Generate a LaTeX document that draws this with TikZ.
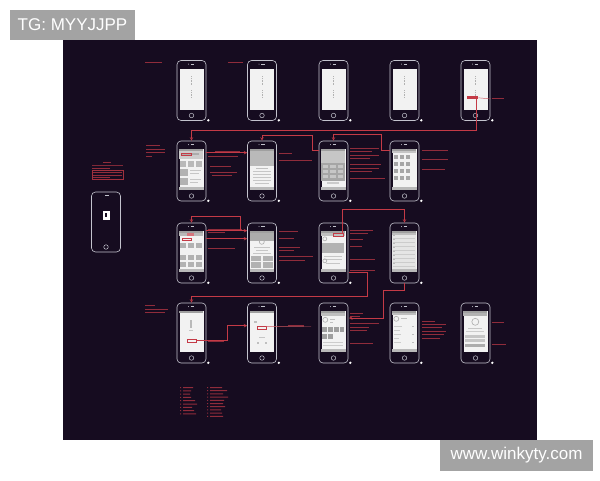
\documentclass[tikz,border=0pt]{standalone}
\usepackage{fontspec}
\setmainfont{Liberation Sans}
\usetikzlibrary{positioning}

\definecolor{bgnavy}{RGB}{22,12,32}
\definecolor{wire}{RGB}{196,58,70}
\definecolor{shell}{RGB}{195,195,205}
\definecolor{scr}{RGB}{242,242,242}
\definecolor{wmgray}{RGB}{163,163,163}

\begin{document}
\begin{tikzpicture}[x=1pt, y=-1pt]
    \tikzstyle{every node}=[inner sep=0pt]
    \tikzstyle{phone}=[draw=shell, line width=0.6pt, rounded corners=4pt, minimum width=29pt, minimum height=60pt]
    \tikzstyle{screen}=[fill=scr, minimum width=24pt, minimum height=41pt, yshift=1.5pt]
    \tikzstyle{homebtn}=[circle, draw=shell, line width=0.5pt, minimum size=4.5pt, yshift=-25pt]
    \tikzstyle{link}=[draw=wire, line width=0.55pt, ->, >=stealth]
    \tikzstyle{leader}=[draw=wire!85, line width=0.45pt]
    \tikzstyle{note}=[fill=wire!70!bgnavy]
    \tikzstyle{badge}=[fill=wmgray, text=white, font=\fontsize{17}{17}\selectfont]

    \useasboundingbox (0,0) rectangle (600,480);
    \fill[bgnavy] (63,40) rectangle (537,440);

    % phones
    \foreach \c/\x in {1/191.5,2/262,3/333.5,4/404.5,5/475.5} {
        \node[phone] (p1\c) at (\x,90.5) {};
        \node[phone] (p4\c) at (\x,333) {};
    }
    \foreach \c/\x in {1/191.5,2/262,3/333.5,4/404.5} {
        \node[phone] (p2\c) at (\x,171) {};
        \node[phone] (p3\c) at (\x,253) {};
    }
    \node[phone] (p0) at (106,222) {};

    \foreach \p in {11,12,13,14,15,21,22,23,24,31,32,33,34,41,42,43,44,45} {
        \node[screen] (s\p) at (p\p) {};
        \node[homebtn] at (p\p) {};
        \fill[shell] ([xshift=-3pt,yshift=-4pt]p\p.north) circle (0.5);
        \draw[shell, line width=0.6pt] ([xshift=-1pt,yshift=-4pt]p\p.north) -- ([xshift=2.5pt,yshift=-4pt]p\p.north);
        \fill[white] ([xshift=2pt,yshift=0.5pt]p\p.south east) circle (1.3);
    }
    \node[homebtn] at (p0) {};
    \draw[shell, line width=0.6pt] ([xshift=-1pt,yshift=-4pt]p0.north) -- ([xshift=2.5pt,yshift=-4pt]p0.north);
    \node[fill=white, minimum width=7pt, minimum height=9pt, yshift=7pt] (logo) at (p0) {};
    \fill[bgnavy] ([shift={(-1,-2)}]logo.center) rectangle ([shift={(1,2)}]logo.center);

    % screen content
    \foreach \p in {11,...,15}
        \draw[gray!60, line width=0.5pt, dash pattern=on 0.8pt off 0.8pt]
            ([shift={(12,8)}]s\p.north west) -- ++(0,9) ([shift={(12,22)}]s\p.north west) -- ++(0,7);
    \foreach \p in {21,22,23,24,31,32,33,34,41,42,43,44,45}
        \fill[gray!75] (s\p.north west) rectangle ([shift={(24,2)}]s\p.north west);
    \foreach \p in {21,22,23,24,31,32,33,34,43,44}
        \fill[gray!55] ([shift={(0,38)}]s\p.north west) rectangle (s\p.south east);
    \foreach \s/\a/\b/\c/\d/\k in {
        21/0/2/24/10/40, 21/2/4/20/6/65, 21/1/12/7/18/55, 21/9/12/15/18/55, 21/17/12/23/18/55,
        21/1/20/9/27/60, 21/11/21/22/22/45, 21/11/24/20/25/45, 21/1/29/9/36/60, 21/11/30/22/31/45, 21/11/33/19/34/45,
        22/0/2/24/17/55, 22/6/19/18/20/50, 22/3/22/21/23/45, 22/3/25/21/26/45, 22/3/28/21/29/45, 22/3/31/21/32/45, 22/5/34/19/35/45,
        23/0/2/24/14/45, 23/0/14/24/32/70, 23/2/16/7/19/45, 23/9/16/15/19/45, 23/17/16/22/19/45,
        23/2/21/7/24/45, 23/9/21/15/24/45, 23/17/21/22/24/45, 23/2/26/7/29/45, 23/9/26/15/29/45, 23/17/26/22/29/45, 23/6/33/18/35/40,
        24/0/2/24/4/45,
        31/0/2/24/5/55, 31/1/12/7/17/60, 31/9/12/15/17/60, 31/17/12/23/17/60, 31/1/24/7/29/60, 31/9/24/15/29/60,
        31/17/24/23/29/60, 31/1/31/7/36/60, 31/9/31/15/36/60, 31/17/31/23/36/60,
        32/0/2/24/10/65, 32/4/16/20/17/45, 32/6/19/18/20/45, 32/3/22/21/23/45, 32/1/25/11/30/60, 32/13/25/23/30/60, 32/1/31/11/37/60, 32/13/31/23/37/60,
        33/0/2/24/5/50, 33/1/12/23/22/60, 33/3/25/21/26/45, 33/3/28/21/29/45, 33/5/32/19/33/45,
        34/0/2/24/38/20, 34/0/2/24/4/50,
        41/11/9/13/17/55, 41/10/19/14/20/45,
        42/4/10/7/12/50, 42/9/26/15/27/45, 42/7/31/9/33/50, 42/15/31/17/33/50,
        43/0/2/24/5/50, 43/9/8/14/9/50, 43/9/11/12/12/50, 43/1/16/6/21/75, 43/7/16/12/21/75, 43/13/16/18/21/75, 43/19/16/23/21/75,
        43/1/23/6/28/75, 43/7/23/12/28/75, 43/2/31/22/32/40, 43/2/34/22/35/40,
        44/0/2/24/4/50, 44/9/7/15/8/50, 44/2/15/10/16/40, 44/2/19/8/20/40, 44/2/23/9/24/40, 44/2/27/7/28/40, 44/2/31/9/32/40,
        44/20/15/22/16/50, 44/20/23/22/24/50, 44/20/31/22/32/50,
        45/0/2/24/5/60, 45/5/17/19/18/45, 45/3/20/21/21/40, 45/2/24/22/27/45, 45/2/28/22/31/45, 45/2/33/22/36/65}
        \fill[gray!\k] ([shift={(\a,\b)}]s\s.north west) rectangle ([shift={(\c,\d)}]s\s.north west);
    \foreach \v in {6,13,20,27}
        \foreach \u in {2,8,14}
            \fill[gray!70] ([shift={(\u,\v)}]s24.north west) rectangle ++(4,4);
    \foreach \v in {7,11,15,19,23,27,31,35} {
        \fill[gray!40] ([shift={(1,\v)}]s34.north west) rectangle ++(22,0.5);
        \fill[gray!55] ([shift={(1,\v-2.5)}]s34.north west) rectangle ++(2,1);
    }
    \foreach \s/\a/\b/\r in {32/12/11/2.5, 33/3.5/8/2, 33/3.5/30/2, 43/4/9/2.5, 44/4/8/2.5, 45/12/11/3.5}
        \draw[gray!65, line width=0.6pt] ([shift={(\a,\b)}]s\s.north west) circle (\r);
    \fill[wire] ([shift={(4,28)}]s15.north west) rectangle ([shift={(15,31)}]s15.north west);
    \fill[wire!70] ([shift={(8,2)}]s31.north west) rectangle ([shift={(15,5)}]s31.north west);
    \foreach \s/\a/\b/\c/\d in {31/3/7/12/9, 33/12/2/22/5, 41/8/28/17/31, 42/7/15/16/18, 21/2/4/12/6}
        \draw[wire, line width=0.5pt] ([shift={(\a,\b)}]s\s.north west) rectangle ([shift={(\c,\d)}]s\s.north west);

    % notes
    \foreach \a/\b/\y in {
        145/162/62, 228/243/62, 492/504/98,
        146/160/145, 146/165/148.5, 146/165/152, 146/152/155.5,
        215/240/150.5, 208/238/156, 210/231/165.5, 210/237/171.5, 212/232/174.5,
        279/292/152.5, 279/312/159.5,
        350/379/147.5, 350/372/150.5, 350/379/154.5, 350/370/157.5, 350/381/163.5, 350/379/167.5, 350/372/170.5, 350/385/177.5,
        422/448/149.5, 422/448/158.5, 422/445/168.5,
        103/111/162, 92/110/167.5, 93/122/171.5, 93/122/174.5, 93/110/177,
        208/242/228.5, 208/225/231.5, 208/231/237.5, 208/235/247.5,
        279/298/230.5, 279/294/237.5, 279/300/246.5, 279/294/249.5, 279/313/255.5, 279/305/259.5,
        350/373/229.5, 350/368/232.5, 350/363/238.5, 350/362/245.5, 350/375/258.5, 350/375/270,
        145/155/304.5, 145/168/308.5, 145/165/311.5,
        208/224/340.5, 288/304/324.5,
        350/363/312.5, 350/360/316, 350/379/322.5, 350/369/326.5, 350/367/329.5, 350/373/342.5,
        422/435/320.5, 422/446/323.5, 422/442/327, 422/446/330.5, 422/444/334, 422/440/337.5,
        492/504/321.5, 492/506/343.5}
        \fill[note] (\a,\y) rectangle (\b,\y+1.1);
    \draw[wire!60!bgnavy, line width=0.3pt] (92,165) -- (123,165);
    \draw[wire!80!bgnavy, line width=0.5pt] (92,170) rectangle (123,178.8);
    \foreach \k/\w in {0/10,1/8,2/7,3/8,4/12,5/14,6/9,7/11,8/13}
        \fill[note] (180,387+3.3*\k) rectangle ++(1,1) (183,387+3.3*\k) rectangle ++(\w,1);
    \foreach \k/\w in {0/12,1/17,2/13,3/18,4/14,5/13,6/15,7/11,8/12,9/13}
        \fill[note] (207,387+3.2*\k) rectangle ++(1,1) (210,387+3.2*\k) rectangle ++(\w,1);

    % links
    \coordinate (b15) at ([shift={(13,31)}]s15.north west);
    \coordinate (n15) at (491,99);
    \draw[leader] ([shift={(15,29.5)}]s15.north west) -- (n15);
    \draw[link] (b15) -- ++(0,31) -| (p21.north);
    \draw[link] ([yshift=-10pt]p23.north west) -- ++(-6,0) -- ++(0,-15) -| (p22.north);
    \draw[link] ([yshift=-10pt]p24.north west) -- ++(-8,0) -- ++(0,-16) -| (p23.north);
    \draw[link] ([yshift=-12pt]p21.north east) -- ([yshift=-12pt]p22.north west);

    \coordinate (c31) at (240,231);
    \draw[link] (c31) -- ++(0,-15) -| (p31.north);
    \draw[link] ([yshift=-8pt]p31.north east) -- ([yshift=-8pt]p32.north west);
    \draw[link] ([yshift=-16pt]p31.north east) -- ([yshift=-16pt]p32.north west);
    \coordinate (h33) at ([shift={(21,2)}]s33.north west);
    \draw[link] (h33) -- ++(0,-24) -| (p34.north);
    \coordinate (c41) at (349,272);
    \draw[link] (c41) -- ++(18,0) -- ++(0,24) -| (p41.north);
    \coordinate (c43) at (349,318);
    \draw[link] (p34.south) -- ++(0,7) -- ++(-21.5,0) |- (c43);

    \coordinate (b41) at ([shift={(17,29.5)}]s41.north west);
    \draw[link] (b41) -- ++(31,0) |- ([yshift=-23pt]p42.north west);
    \coordinate (n42) at (311,326.5);
    \draw[leader] ([shift={(16,15.5)}]s42.north west) -- (n42);

    % watermarks
    \node[badge, minimum width=125pt, minimum height=30pt] (tg) at (72.5,25) {TG: MYYJJPP};
    \node[badge, minimum width=153pt, minimum height=31pt] (site) at (516.5,455.5) {www.winkyty.com};
\end{tikzpicture}
\end{document}
